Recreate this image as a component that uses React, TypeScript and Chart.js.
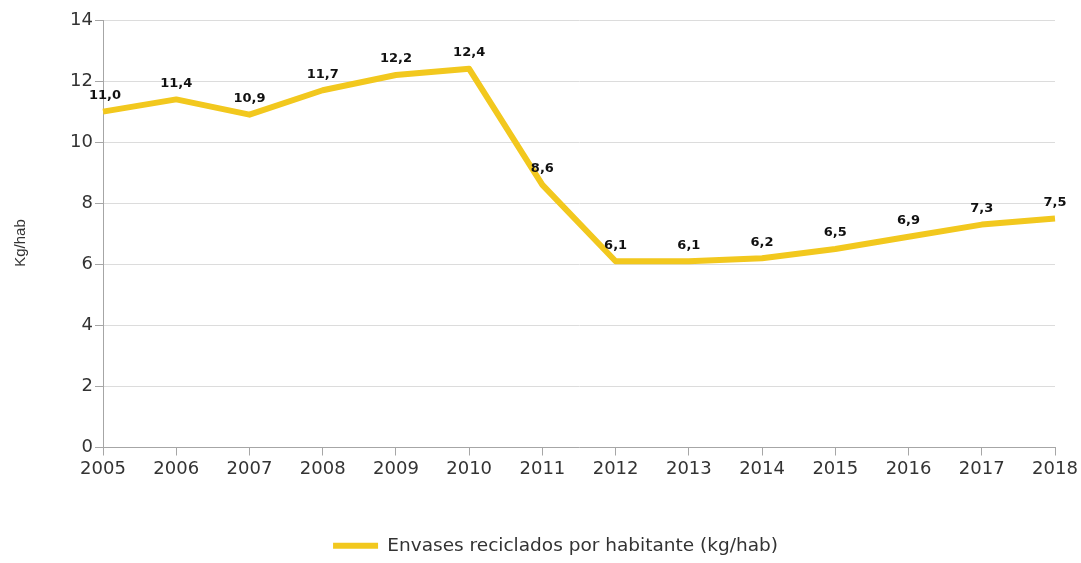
import React, { useEffect, useRef } from "react";
import { Chart, registerables } from "chart.js";

Chart.register(...registerables);

const years = ["2005", "2006", "2007", "2008", "2009", "2010", "2011", "2012", "2013", "2014", "2015", "2016", "2017", "2018"];
const values = [11.0, 11.4, 10.9, 11.7, 12.2, 12.4, 8.6, 6.1, 6.1, 6.2, 6.5, 6.9, 7.3, 7.5];
const seriesLabel = "Envases reciclados por habitante (kg/hab)";
const yTitle = "Kg/hab";

const LINE_COLOR = "#F2C81E";

const dataLabelPlugin = {
  id: "dataLabels",
  afterLayout(chart: any) {
    const lg = chart.legend;
    if (lg) {
      lg.left += 28;
      lg.right += 28;
      lg.top += 2;
      lg.bottom += 2;
    }
  },
  afterDatasetsDraw(chart: any) {
    const ctx = chart.ctx;
    const meta = chart.getDatasetMeta(0);
    ctx.save();
    ctx.font = "bold 13px 'DejaVu Sans', sans-serif";
    ctx.fillStyle = "#111111";
    ctx.textAlign = "center";
    ctx.textBaseline = "middle";
    meta.data.forEach((pt: any, i: number) => {
      const txt = values[i].toFixed(1).replace(".", ",");
      ctx.fillText(txt, pt.x + (i === 0 ? 2 : 0), pt.y - 16);
    });
    // y axis title
    ctx.font = "15px 'Liberation Sans', Arial, sans-serif";
    ctx.fillStyle = "#333333";
    ctx.translate(21, 243);
    ctx.rotate(-Math.PI / 2);
    ctx.fillText(yTitle, 0, 0);
    ctx.restore();
  },
};

export default function App() {
  const ref = useRef<HTMLCanvasElement | null>(null);
  useEffect(() => {
    document.body.style.margin = "0";
    const chart = new Chart(ref.current!, {
      type: "line",
      data: {
        labels: years,
        datasets: [
          {
            label: seriesLabel,
            data: values,
            borderColor: LINE_COLOR,
            backgroundColor: LINE_COLOR,
            borderWidth: 6,
            borderJoinStyle: "round",
            pointRadius: 0,
            pointHoverRadius: 0,
            tension: 0,
            fill: false,
          },
        ],
      },
      options: {
        animation: false,
        responsive: false,
        maintainAspectRatio: false,
        layout: { padding: { left: 0, right: 26, top: 20, bottom: 0 } },
        plugins: {
          tooltip: { enabled: false },
          legend: {
            position: "bottom",
            labels: {
              usePointStyle: true,
              pointStyle: "line",
              pointStyleWidth: 45,
              color: "#333333",
              font: { size: 18.5, family: "'DejaVu Sans', sans-serif" },
              padding: 8,
            },
          },
        },
        scales: {
          x: {
            offset: false,
            grid: {
              drawOnChartArea: false,
              drawTicks: true,
              tickLength: 8,
              tickColor: "#a6a6a6",
            },
            border: { color: "#a6a6a6", width: 1 },
            ticks: {
              color: "#333333",
              font: { size: 18, family: "'DejaVu Sans', sans-serif" },
              padding: 3,
              maxRotation: 0,
              autoSkip: false,
            },
            afterFit: (scale: any) => {
              scale.height = 79;
            },
          },
          y: {
            min: 0,
            max: 14,
            ticks: {
              stepSize: 2,
              color: "#333333",
              font: { size: 18, family: "'DejaVu Sans', sans-serif" },
              padding: 2,
            },
            grid: {
              color: "#dcdcdc",
              tickColor: "#a6a6a6",
              tickLength: 8,
            },
            border: { color: "#a6a6a6", width: 1 },
            title: { display: false },
            afterFit: (scale: any) => {
              scale.width = 103;
            },
          },
        },
      },
      plugins: [dataLabelPlugin],
    });
    return () => chart.destroy();
  }, []);
  return (
    <div style={{ position: "absolute", left: 0, top: 0, width: 1081, height: 563, background: "#fff" }}>
      <canvas ref={ref} width={1081} height={563} />
    </div>
  );
}
